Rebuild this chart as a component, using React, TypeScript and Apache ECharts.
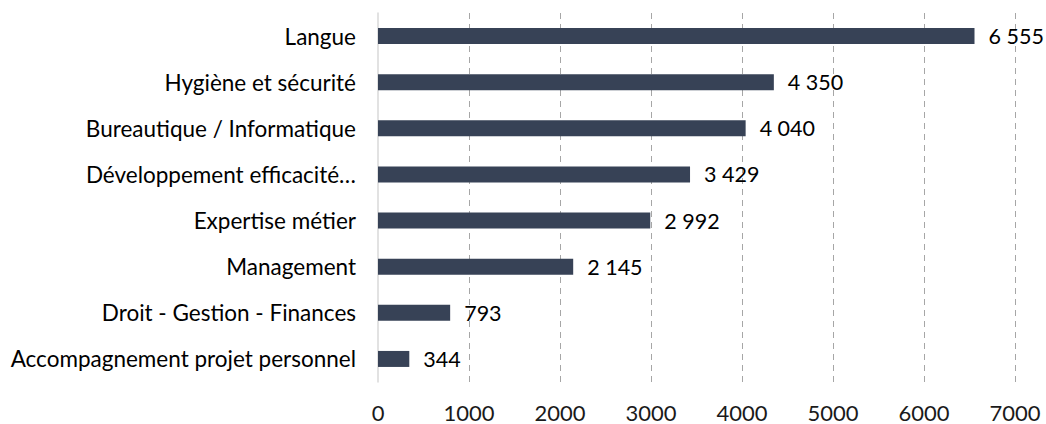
import React, { useEffect, useRef } from "react";
import * as echarts from "echarts";

const categories = [
  "Accompagnement projet personnel",
  "Droit - Gestion - Finances",
  "Management",
  "Expertise métier",
  "Développement efficacité…",
  "Bureautique / Informatique",
  "Hygiène et sécurité",
  "Langue",
];
const values = [344, 793, 2145, 2992, 3429, 4040, 4350, 6555];
const xTicks = { min: 0, max: 7000, interval: 1000 };

const fmt = (v: number) => String(v).replace(/\B(?=(\d{3})+(?!\d))/g, " ");

export default function App() {
  const ref = useRef<HTMLDivElement>(null);
  useEffect(() => {
    document.body.style.margin = "0";
    const chart = echarts.init(ref.current!, undefined, { renderer: "svg" });
    const font = "Lato, 'Noto Sans', sans-serif";
    chart.setOption({
      animation: false,
      textStyle: { fontFamily: font },
      grid: { left: 378, right: 31, top: 13, bottom: 42, containLabel: false },
      xAxis: {
        type: "value",
        min: xTicks.min,
        max: xTicks.max,
        interval: xTicks.interval,
        axisLine: { show: false },
        axisTick: { show: false },
        axisLabel: {
          fontSize: 22,
          color: "#1a1a1a",
          margin: 19,
          fontFamily: font,
          formatter: (v: number) => String(v),
        },
        splitLine: {
          show: true,
          showMinLine: false,
          lineStyle: { color: "#a6a6a6", type: [6, 5], width: 1 },
        },
      },
      yAxis: {
        type: "category",
        data: categories,
        axisTick: { show: false },
        axisLine: { show: true, lineStyle: { color: "#d9d9d9", width: 1.5 } },
        axisLabel: { fontSize: 22.5, color: "#000", margin: 22, fontFamily: font },
        splitLine: { show: false },
      },
      series: [
        {
          type: "bar",
          data: values,
          barWidth: 16,
          itemStyle: { color: "#374256" },
          label: {
            show: true,
            position: "right",
            distance: 14,
            fontSize: 21.5,
            color: "#000",
            fontFamily: font,
            formatter: (p: any) => fmt(p.value),
          },
        },
      ],
    });
    return () => chart.dispose();
  }, []);
  return <div ref={ref} style={{ width: 1046, height: 424 }} />;
}
